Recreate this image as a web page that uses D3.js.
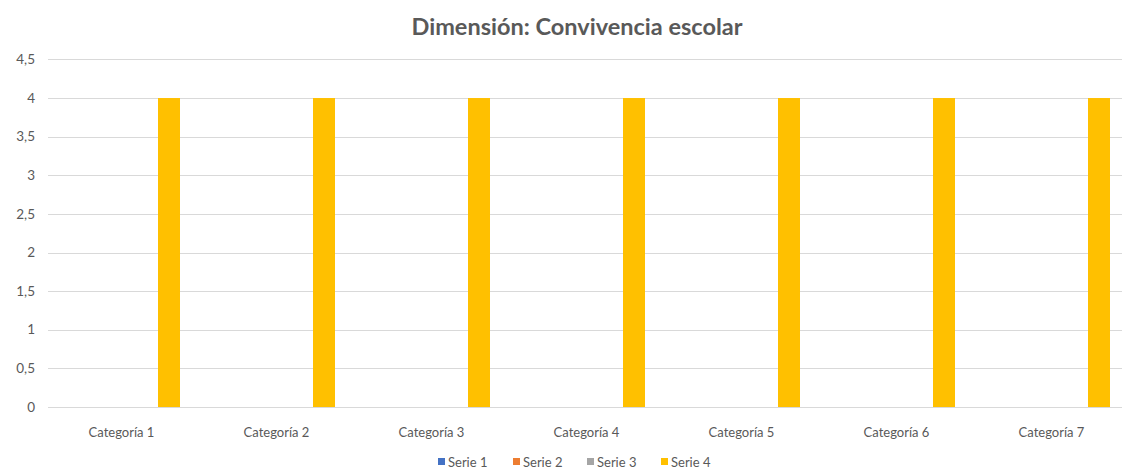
<!DOCTYPE html>
<html>
<head>
<meta charset="utf-8">
<script src="https://cdn.jsdelivr.net/npm/d3@7"></script>
<style>
  body { margin: 0; background: #fff; }
  text { font-family: Lato, "Open Sans", sans-serif; fill: #595959; }
</style>
</head>
<body>
<div id="chart"></div>
<script>
const categories = ['Categoría 1', 'Categoría 2', 'Categoría 3', 'Categoría 4', 'Categoría 5', 'Categoría 6', 'Categoría 7'];
const seriesNames = ['Serie 1', 'Serie 2', 'Serie 3', 'Serie 4'];
const serie1 = [0, 0, 0, 0, 0, 0, 0];
const serie2 = [0, 0, 0, 0, 0, 0, 0];
const serie3 = [0, 0, 0, 0, 0, 0, 0];
const serie4 = [4, 4, 4, 4, 4, 4, 4];
const yTicks = [0, 0.5, 1, 1.5, 2, 2.5, 3, 3.5, 4, 4.5];
const colors = ['#4472C4', '#ED7D31', '#A5A5A5', '#FFC000'];

const width = 1122, height = 470;
const allSeries = [serie1, serie2, serie3, serie4];

const svg = d3.select('#chart').append('svg')
    .attr('width', width)
    .attr('height', height);

const x0 = d3.scaleBand()
    .domain(categories)
    .range([44, 44 + 155 * 7]);

// bars sit a little right of the label centre, as in the original
const x1 = d3.scaleBand()
    .domain(seriesNames)
    .range([48, 136]);

const y = d3.scaleLinear()
    .domain([0, 4.5])
    .range([407, 59.4]);

// gridlines
svg.append('g')
    .selectAll('line')
    .data(yTicks)
    .join('line')
    .attr('x1', 48)
    .attr('x2', width)
    .attr('y1', d => Math.round(y(d)) + 0.5)
    .attr('y2', d => Math.round(y(d)) + 0.5)
    .attr('stroke', '#d9d9d9')
    .attr('stroke-width', 1);

// y labels
const fmt = d => String(d).replace('.', ',');
svg.append('g')
    .selectAll('text')
    .data(yTicks)
    .join('text')
    .attr('x', 35)
    .attr('y', d => y(d))
    .attr('dy', '0.35em')
    .attr('text-anchor', 'end')
    .style('font-size', '13.5px')
    .text(fmt);

// bars
const groups = svg.append('g')
    .selectAll('g')
    .data(categories)
    .join('g')
    .attr('transform', d => `translate(${x0(d)},0)`);

groups.selectAll('rect')
    .data((d, i) => seriesNames.map((s, j) => ({ s, v: allSeries[j][i], c: colors[j] })))
    .join('rect')
    .attr('x', d => x1(d.s))
    .attr('width', x1.bandwidth())
    .attr('y', d => y(d.v))
    .attr('height', d => y(0) - y(d.v))
    .attr('fill', d => d.c);

// category labels
svg.append('g')
    .selectAll('text')
    .data(categories)
    .join('text')
    .attr('x', d => x0(d) + x0.bandwidth() / 2)
    .attr('y', 437)
    .attr('text-anchor', 'middle')
    .style('font-size', '13px')
    .text(d => d);

// title
svg.append('text')
    .attr('x', 577)
    .attr('y', 35)
    .attr('text-anchor', 'middle')
    .style('font-size', '23.5px')
    .style('font-weight', 'bold')
    .text('Dimensión: Convivencia escolar');

// legend
const legendX = [438, 513, 587, 661];
const legend = svg.append('g')
    .selectAll('g')
    .data(seriesNames)
    .join('g')
    .attr('transform', (d, i) => `translate(${legendX[i]},458)`);

legend.append('rect')
    .attr('width', 7)
    .attr('height', 7)
    .attr('fill', (d, i) => colors[i]);

legend.append('text')
    .attr('x', 10)
    .attr('y', 4)
    .attr('dy', '0.35em')
    .style('font-size', '13px')
    .text(d => d);
</script>
</body>
</html>
